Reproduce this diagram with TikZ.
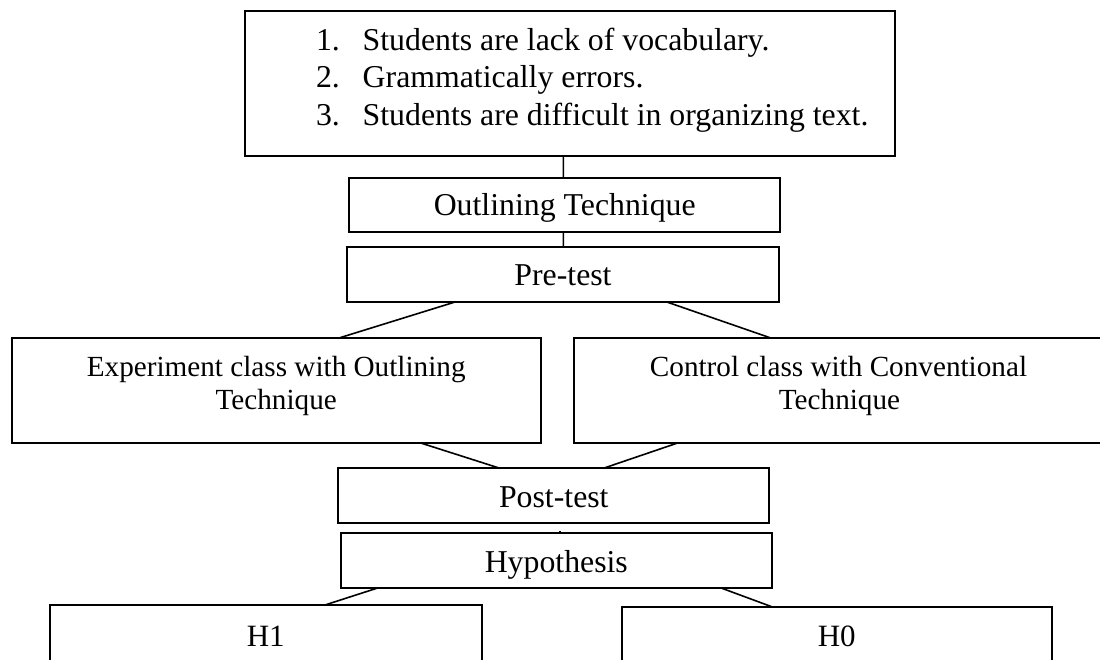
\documentclass[tikz,border=0pt]{standalone}
\usepackage{fontspec}
\setmainfont{Liberation Serif}
\usetikzlibrary{calc}
\begin{document}
\begin{tikzpicture}[x=1pt,y=-1pt,
  boxn/.style={draw=black, line width=1.8pt, inner sep=0pt, outer sep=0pt},
  lbl/.style={inner sep=0pt, outer sep=0pt, font=\fontsize{31.8}{36}\selectfont},
  lbls/.style={inner sep=0pt, outer sep=0pt, font=\fontsize{29.2}{33}\selectfont},
  lblh/.style={inner sep=0pt, outer sep=0pt, font=\fontsize{31}{36}\selectfont},
  conn/.style={draw=black, line width=1.6pt}]
\fill[white] (0,0) rectangle (1100,659);
\useasboundingbox (0,0) rectangle (1100,659);

% boxes
\node[boxn, minimum width=650pt, minimum height=145pt] (top) at (570,83.2) {};
\node[boxn, minimum width=430.7pt, minimum height=54.6pt] (outl) at (564.7,205) {};
\node[boxn, minimum width=431.4pt, minimum height=55pt] (pre) at (563,274.2) {};
\node[boxn, minimum width=529pt, minimum height=105pt] (exp) at (276.2,390.8) {};
\node[boxn, minimum width=529pt, minimum height=105pt] (ctl) at (838.8,390.8) {};
\node[boxn, minimum width=431pt, minimum height=55pt] (post) at (553.8,495.8) {};
\node[boxn, minimum width=431.3pt, minimum height=55pt] (hyp) at (556.3,560.8) {};
\node[boxn, minimum width=431.7pt, minimum height=95pt] (hone) at (265.8,652.5) {};
\node[boxn, minimum width=430pt, minimum height=95pt] (hzero) at (836.7,654.2) {};

% texts
\node[lbl, anchor=base west] (n1) at (316,50) {1.};
\node[lbl, anchor=base west] (t1) at (362.7,50) {Students are lack of vocabulary.};
\node[lbl, anchor=base west] (n2) at (316,87.7) {2.};
\node[lbl, anchor=base west] (t2) at (362.7,87.7) {Grammatically errors.};
\node[lbl, anchor=base west] (n3) at (316,125) {3.};
\node[lbl, anchor=base west] (t3) at (362.7,125) {Students are difficult in organizing text.};

\node[lbl, anchor=base] (outlt) at (564.7,215.7) {Outlining Technique};
\node[lbl, anchor=base] (pret) at (563,285.5) {Pre-test};

\node[lbls, anchor=base] (expa) at (276.2,376) {Experiment class with Outlining};
\node[lbls, anchor=base] (expb) at (276.2,409) {Technique};
\node[lbls, anchor=base] (ctla) at (838.5,376) {Control class with Conventional};
\node[lbls, anchor=base] (ctlb) at (839.5,409) {Technique};

\node[lbl, anchor=base] (postt) at (553.8,507) {Post-test};
\node[lbl, anchor=base] (hypt) at (556.3,572.7) {Hypothesis};
\node[lblh, anchor=base] (honet) at (265.8,646) {H1};
\node[lblh, anchor=base] (hzerot) at (836.7,646.5) {H0};

% connectors
\draw[conn] ($(top.south west)+(318.3,0)$) -- ($(outl.north west)+(214,0)$);
\draw[conn] ($(outl.south west)+(214,0)$) -- ($(pre.north west)+(216,0)$);
\draw[conn] ($(pre.south west)+(108.7,0)$) -- ($(exp.north west)+(326.3,0)$);
\draw[conn] ($(pre.south west)+(318.7,0)$) -- ($(ctl.north west)+(197.4,0)$);
\draw[conn] ($(exp.south west)+(410,0)$) -- ($(post.north west)+(161.7,0)$);
\draw[conn] ($(ctl.south west)+(102.4,0)$) -- ($(post.north west)+(265,0)$);
\coordinate (tick) at ($(hyp.north west)+(219.3,-2.5)$);
\draw[conn] ($(hyp.north west)+(219.3,0)$) -- (tick);
\draw[conn] ($(hyp.south west)+(36,0)$) -- ($(hone.north west)+(275,0)$);
\draw[conn] ($(hyp.south west)+(381.3,0)$) -- ($(hzero.north west)+(150,0)$);
\end{tikzpicture}
\end{document}
